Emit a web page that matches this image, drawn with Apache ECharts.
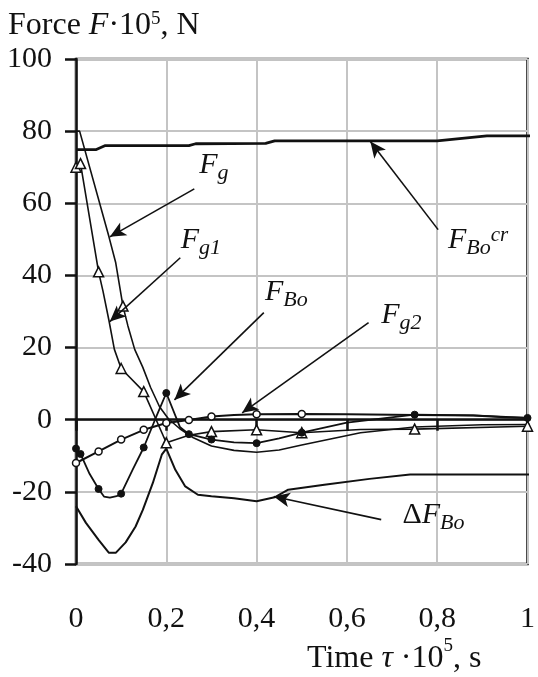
<!DOCTYPE html>
<html>
<head>
<meta charset="utf-8">
<script src="https://cdn.jsdelivr.net/npm/echarts@6/dist/echarts.min.js"></script>
<style>
html, body { margin: 0; padding: 0; background: #fff; }
#chart { width: 538px; height: 677px; }
</style>
</head>
<body>
<div id="chart"></div>
<script>
// tick labels of the time axis (comma decimals)
var xTickLabels = ['0', '0,2', '0,4', '0,6', '0,8', '1'];

// curves: [time*1e5, force*1e5]
var fBoCr = [[0, 74.9], [0.045, 74.9], [0.065, 76.0], [0.25, 76.0], [0.265, 76.5], [0.42, 76.6],
  [0.44, 77.3], [0.8, 77.3], [0.91, 78.7], [1.02, 78.7]];
var fG = [[0, 80], [0.008, 80], [0.073, 50.7], [0.088, 43.5], [0.104, 31.5], [0.115, 26], [0.13, 19.5],
  [0.148, 14.5], [0.165, 9], [0.185, 3.6], [0.205, 0.2], [0.23, -2.5], [0.26, -5], [0.3, -7.3],
  [0.35, -8.5], [0.4, -9], [0.45, -8.4], [0.5, -7], [0.63, -3.6], [0.75, -2], [0.9, -1.4], [1.02, -1.3]];
var fG1 = [[0, 70], [0.01, 71], [0.05, 41], [0.06, 35.5], [0.073, 27.5], [0.085, 19.5], [0.1, 14.2],
  [0.15, 7.8], [0.2, -6.4], [0.25, -4.3], [0.3, -3.3], [0.4, -2.8], [0.5, -3.6], [0.63, -2.7],
  [0.75, -2.6], [1.0, -1.8], [1.02, -1.8]];
var fG2 = [[0, -12], [0.05, -8.8], [0.1, -5.5], [0.15, -2.8], [0.2, -0.9], [0.25, -0.1], [0.3, 0.9],
  [0.35, 1.3], [0.4, 1.5], [0.5, 1.6], [0.6, 1.5], [0.75, 1.3], [0.88, 1.2], [0.95, 0.7], [1.02, 0.4]];
var fBo = [[0, -8], [0.01, -9.5], [0.03, -15], [0.05, -19.2], [0.062, -21.3], [0.075, -21.6], [0.09, -21.2],
  [0.1, -20.5], [0.125, -14], [0.15, -7.7], [0.175, 0], [0.2, 7.4], [0.23, -2], [0.25, -4], [0.3, -5.5],
  [0.35, -6.3], [0.4, -6.5], [0.45, -5.2], [0.5, -3.6], [0.6, -0.8], [0.75, 1.4], [0.88, 1.2],
  [1.0, 0.5], [1.02, 0.5]];
var dFBo = [[0, -24], [0.022, -28.6], [0.05, -33.3], [0.073, -36.9], [0.088, -36.9], [0.11, -34],
  [0.132, -29.6], [0.148, -25], [0.17, -17.6], [0.19, -9.7], [0.2, -8], [0.22, -13.9], [0.242, -18.5],
  [0.27, -20.8], [0.3, -21.2], [0.35, -21.8], [0.4, -22.6], [0.44, -21.5], [0.47, -19.4], [0.55, -18],
  [0.65, -16.4], [0.74, -15.2], [1.02, -15.2]];

// times where each curve carries a marker
var fGMarks = [0.104];
var fG1Marks = [0, 0.01, 0.05, 0.1, 0.15, 0.2, 0.3, 0.4, 0.5, 0.75, 1.0];
var fG2Marks = [0, 0.05, 0.1, 0.15, 0.2, 0.25, 0.3, 0.4, 0.5];
var fBoMarks = [0, 0.01, 0.05, 0.1, 0.15, 0.2, 0.25, 0.3, 0.4, 0.5, 0.75, 1.0];

// annotation arrows: [from, to] in data coords
var arrowFG = [[0.262, 64.0], [0.075, 50.7]];
var arrowFG1 = [[0.231, 44.9], [0.075, 27.2]];
var arrowFBo = [[0.416, 29.7], [0.218, 5.5]];
var arrowFG2 = [[0.648, 26.9], [0.368, 1.9]];
var arrowFBoCr = [[0.802, 52.7], [0.652, 77.1]];
var arrowDFBo = [[0.676, -27.7], [0.438, -21.3]];

// annotation texts, anchored at top-left in data coords
var labelTexts = ['{f|F}{sub|g}', '{f|F}{sub|g1}', '{f|F}{sub|Bo}', '{f|F}{sub|g2}', '{f|F}{sub|Bo}{sup|cr}', '{d|\u0394}{f|F}{sub|Bo}'];
var labelAnchors = [[0.273, 74.7], [0.232, 53.9], [0.4185, 39.6], [0.676, 33.1], [0.824, 53.9], [0.723, -22.3]];

var serif = "'Liberation Serif', 'Times New Roman', serif";
var ink = '#111';

function buildData(pts, marks) {
  return pts.map(function (p) {
    if (marks.indexOf(p[0]) >= 0) return { value: p };
    return { value: p, symbol: 'none' };
  });
}

function arrow(a) {
  return {
    silent: true,
    symbol: ['none', 'arrow'],
    symbolSize: [11, 16],
    lineStyle: { color: ink, width: 1.6, type: 'solid' },
    label: { show: false },
    data: [[{ coord: a[0] }, { coord: a[1] }]]
  };
}

function curve(name, pts, marks, sym, width, item, arr) {
  return {
    name: name,
    type: 'line',
    clip: false,
    data: buildData(pts, marks),
    showSymbol: true,
    symbol: sym,
    symbolSize: sym === 'triangle' ? 10 : 7,
    lineStyle: { color: ink, width: width },
    itemStyle: item,
    z: 3,
    markLine: arrow(arr)
  };
}

var openMark = { color: '#fff', borderColor: ink, borderWidth: 1.5 };
var fullMark = { color: ink, borderColor: ink, borderWidth: 1 };

var chart = echarts.init(document.getElementById('chart'));
chart.setOption({
  animation: false,
  backgroundColor: '#fff',
  grid: { left: 76, right: 8, top: 59, bottom: 113, show: true, borderColor: ink, borderWidth: 2.5 },
  xAxis: {
    type: 'value', min: 0, max: 1, interval: 0.2,
    axisLine: { show: true, lineStyle: { color: ink, width: 2.5 } },
    axisTick: { show: true, length: 11, lineStyle: { color: ink, width: 2.5 } },
    splitLine: { show: true, lineStyle: { color: '#c4c4c4', width: 2 } },
    axisLabel: {
      margin: 40, fontSize: 30, fontFamily: serif, color: ink,
      formatter: function (v) { return xTickLabels[Math.round(v / 0.2)]; }
    }
  },
  yAxis: {
    type: 'value', min: -40, max: 100, interval: 20,
    axisLine: { show: true, lineStyle: { color: ink, width: 2.5 } },
    axisTick: { show: true, length: 11, lineStyle: { color: ink, width: 2.5 } },
    splitLine: { show: true, lineStyle: { color: '#c4c4c4', width: 2 } },
    axisLabel: { margin: 24, fontSize: 30, fontFamily: serif, color: ink }
  },
  series: [
    curve('FBo_cr', fBoCr, [], 'none', 2.8, fullMark, arrowFBoCr),
    curve('dFBo', dFBo, [], 'none', 2, fullMark, arrowDFBo),
    curve('Fg', fG, fGMarks, 'triangle', 1.6, openMark, arrowFG),
    curve('Fg1', fG1, fG1Marks, 'triangle', 1.6, openMark, arrowFG1),
    curve('FBo', fBo, fBoMarks, 'circle', 1.8, fullMark, arrowFBo),
    curve('Fg2', fG2, fG2Marks, 'circle', 2, openMark, arrowFG2)
  ]
});

// main glyphs sit at the line top, subscripts at the line bottom, superscripts at the top
var labelRich = {
  f: { fontSize: 30, fontStyle: 'italic', fontFamily: serif, lineHeight: 34, verticalAlign: 'top', fill: ink },
  d: { fontSize: 30, fontFamily: serif, lineHeight: 34, verticalAlign: 'top', fill: ink },
  sub: { fontSize: 22, fontStyle: 'italic', fontFamily: serif, lineHeight: 22, verticalAlign: 'bottom', fill: ink },
  sup: { fontSize: 21, fontStyle: 'italic', fontFamily: serif, lineHeight: 21, verticalAlign: 'top', fill: ink }
};
function headRich(mainAlign, lineH) {
  return {
    n: { fontSize: 32, fontFamily: serif, lineHeight: lineH, verticalAlign: mainAlign, fill: ink },
    i: { fontSize: 32, fontStyle: 'italic', fontFamily: serif, lineHeight: lineH, verticalAlign: mainAlign, fill: ink },
    sup: { fontSize: 19, fontFamily: serif, lineHeight: 19, verticalAlign: 'top', fill: ink }
  };
}

var graphics = labelTexts.map(function (t, k) {
  var p = chart.convertToPixel({ gridIndex: 0 }, labelAnchors[k]);
  return {
    type: 'text', x: p[0], y: p[1], z: 10,
    style: { text: t, rich: labelRich, align: 'left', verticalAlign: 'top' }
  };
});
graphics.push({
  type: 'text', x: 8, y: 10, z: 10,
  style: { text: '{n|Force }{i|F}{n|\u00b710}{sup|5}{n|, N}', rich: headRich('top', 34), align: 'left', verticalAlign: 'top' }
});
graphics.push({
  type: 'text', x: 307, y: 637, z: 10,
  style: { text: '{n|Time }{i|\u03c4}{n| \u00b710}{sup|5}{n|, s}', rich: headRich('bottom', 38), align: 'left', verticalAlign: 'top' }
});
chart.setOption({ graphic: graphics });
</script>
</body>
</html>
